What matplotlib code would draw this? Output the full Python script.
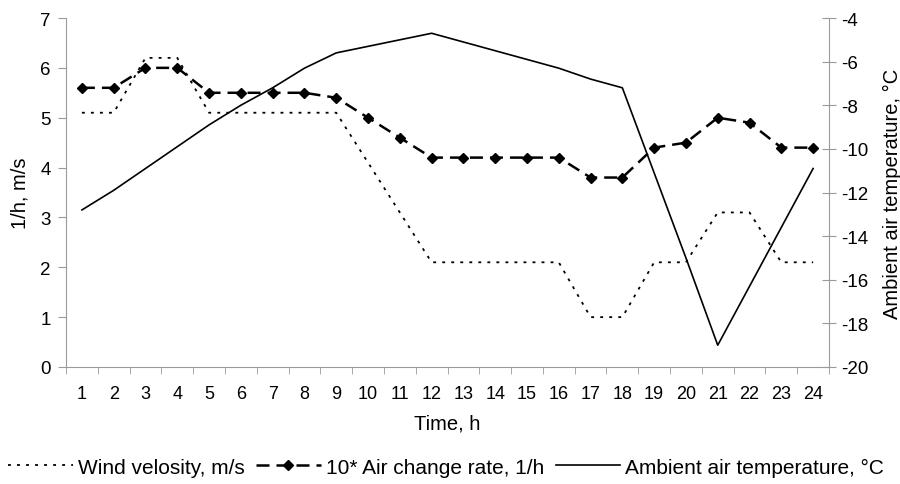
import matplotlib
matplotlib.use("Agg")
import matplotlib.pyplot as plt
from matplotlib.ticker import FixedLocator

plt.rcParams['font.family'] = ['Liberation Sans', 'DejaVu Sans']
plt.rcParams['axes.unicode_minus'] = False

hours = list(range(1, 25))
wind = [5.1, 5.1, 6.2, 6.2, 5.1, 5.1, 5.1, 5.1, 5.1, 4.1, 3.1, 2.1,
        2.1, 2.1, 2.1, 2.1, 1.0, 1.0, 2.1, 2.1, 3.1, 3.1, 2.1, 2.1]
ach10 = [5.6, 5.6, 6.0, 6.0, 5.5, 5.5, 5.5, 5.5, 5.4, 5.0, 4.6, 4.2,
         4.2, 4.2, 4.2, 4.2, 3.8, 3.8, 4.4, 4.5, 5.0, 4.9, 4.4, 4.4]
temp = [-12.8, -11.9, -10.9, -9.9, -8.9, -8.0, -7.2, -6.3, -5.6, -5.3, -5.0, -4.7,
        -5.1, -5.5, -5.9, -6.3, -6.8, -7.2, -11.1, -15.0, -19.0, -16.3, -13.6, -10.9]

left_ticks = [0, 1, 2, 3, 4, 5, 6, 7]
right_ticks = [-20, -18, -16, -14, -12, -10, -8, -6, -4]

gray = '#9a9a9a'
fig = plt.figure(figsize=(9, 4.85), dpi=100)
ax = fig.add_axes([66/900, 1-368/485, (829-66)/900, (368-19)/485])
ax2 = ax.twinx()

l1, = ax.plot(hours, wind, color='black', lw=1.3, linestyle=(0, (1.6, 3.4)),
              label='Wind velosity, m/s')
l2, = ax.plot(hours, ach10, color='black', lw=1.8, linestyle=(0, (5.2, 2.8)),
              marker='D', markersize=5.5, label='10* Air change rate, 1/h')
l3, = ax2.plot(hours, temp, color='black', lw=1.2, label='Ambient air temperature, °C')

ax.set_xlim(0.5, 24.5)
ax.set_ylim(0, 7)
ax2.set_ylim(-20, -4)
ax.set_yticks(left_ticks)
ax2.set_yticks(right_ticks)
ax.set_xticks(hours)
ax.xaxis.set_minor_locator(FixedLocator([h + 0.5 for h in [0] + hours]))
ax.tick_params(axis='x', which='major', length=0, pad=13, labelsize=13)
ax.tick_params(axis='x', which='minor', length=5, color=gray, direction='out')
ax.tick_params(axis='y', length=6, color=gray, direction='out', pad=5, labelsize=13.5)
ax2.tick_params(axis='y', length=10, color=gray, direction='inout', pad=4, labelsize=13.5)

for a in (ax, ax2):
    for s in a.spines.values():
        s.set_color(gray)
    a.spines['top'].set_visible(False)
ax.spines['right'].set_visible(False)
ax2.spines['left'].set_visible(False)
ax2.spines['bottom'].set_visible(False)

ax.set_xlabel('Time, h', fontsize=14.5, labelpad=8)
ax.set_ylabel('1/h, m/s', fontsize=14.5, labelpad=8)
ax2.set_ylabel('Ambient air temperature, °C', fontsize=14.5, labelpad=10)

fig.legend(handles=[l1, l2, l3], loc='center left', bbox_to_anchor=(8/900, 1-468/485),
           ncol=3, frameon=False, fontsize=15, handlelength=3.1, handletextpad=0.25,
           columnspacing=0.55, borderpad=0, borderaxespad=0, numpoints=1)

fig.savefig('out.png', dpi=100)
